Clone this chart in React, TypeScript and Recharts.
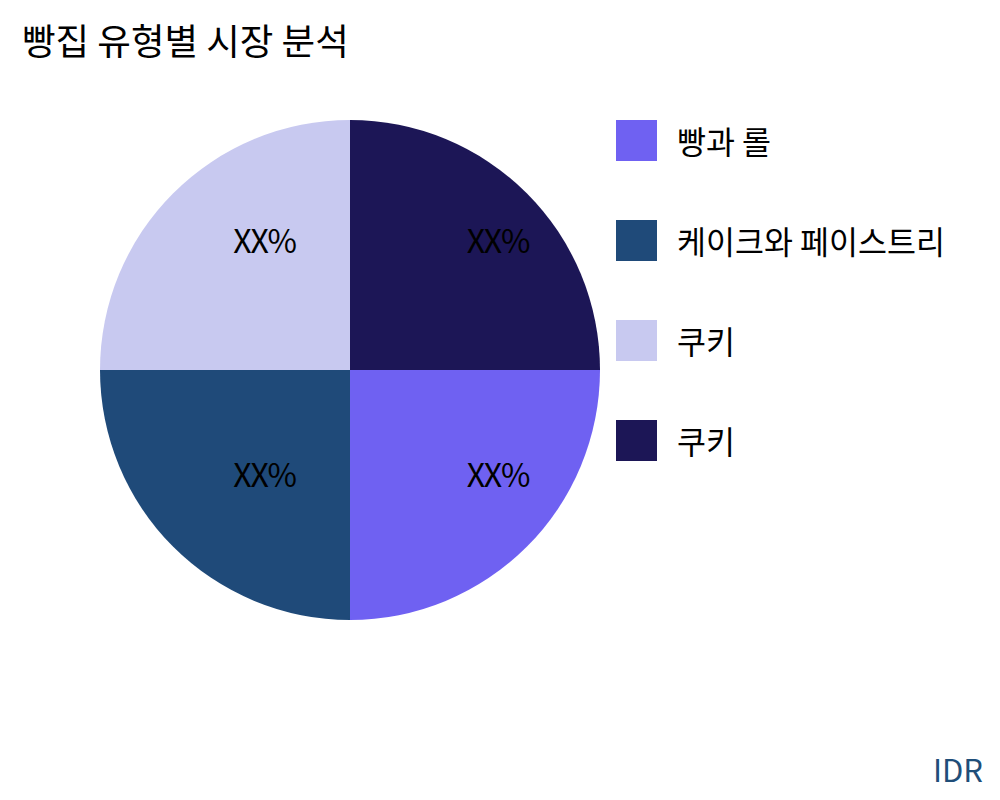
import { PieChart, Pie, Cell, Legend } from 'recharts';

const categories = ['빵과 롤', '케이크와 페이스트리', '쿠키', '쿠키'];
const shares = [25, 25, 25, 25];
const sliceLabels = ['XX%', 'XX%', 'XX%', 'XX%'];
const colors = ['#6f61f2', '#1f4a79', '#c8c9f0', '#1c1656'];

const data = categories.map((name, i) => ({ name, value: shares[i], label: sliceLabels[i] }));

const FONT = '"Noto Sans CJK KR", "Noto Sans", sans-serif';
const RADIAN = Math.PI / 180;

const renderLabel = (props: any) => {
  const { cx, cy, midAngle, outerRadius, index } = props;
  const r = outerRadius * 0.66;
  const x = cx + r * Math.cos(-midAngle * RADIAN);
  const y = cy + r * Math.sin(-midAngle * RADIAN);
  return (
    <text x={x} y={y} textAnchor="start" fill="#000" fontSize={32} fontFamily={FONT} style={{ letterSpacing: -1.2 }}>
      {sliceLabels[index]}
    </text>
  );
};

const LegendContent = () => (
  <div style={{ fontFamily: FONT }}>
    {categories.map((name, i) => (
      <div key={i} style={{ display: 'flex', alignItems: 'center', height: 100 }}>
        <div style={{ width: 41, height: 41, background: colors[i], marginRight: 20 }} />
        <span style={{ fontSize: 31.5, color: '#000' }}>{name}</span>
      </div>
    ))}
  </div>
);

export default function App() {
  return (
    <div style={{ position: 'absolute', left: 0, top: 0, width: 1000, height: 800, background: '#fff', fontFamily: FONT }}>
      <div style={{ position: 'absolute', left: 22, top: 18, fontSize: 36.5, lineHeight: 1.2, color: '#000', whiteSpace: 'nowrap' }}>
        빵집 유형별 시장 분석
      </div>
      <PieChart
        width={1000}
        height={800}
        margin={{ top: 0, right: 0, bottom: 0, left: 0 }}
        style={{ position: 'absolute', left: 0, top: 0 }}
      >
        <Pie
          data={data}
          dataKey="value"
          nameKey="name"
          cx={350}
          cy={370}
          outerRadius={250}
          startAngle={0}
          endAngle={-360}
          stroke="none"
          label={renderLabel}
          labelLine={false}
          isAnimationActive={false}
        >
          {data.map((d, i) => (
            <Cell key={i} fill={colors[i]} />
          ))}
        </Pie>
        <Legend
          content={<LegendContent />}
          layout="vertical"
          wrapperStyle={{ position: 'absolute', left: 616, top: 90, width: 380 }}
        />
      </PieChart>
      <div style={{ position: 'absolute', right: 17, top: 746, fontSize: 31, color: '#1f4e79' }}>IDR</div>
    </div>
  );
}
